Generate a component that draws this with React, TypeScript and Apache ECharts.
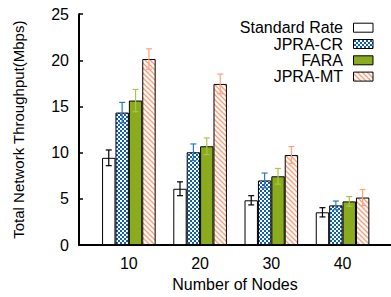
import React, { useEffect, useRef } from "react";
import * as echarts from "echarts";

const nodes = [10, 20, 30, 40];
const seriesNames = ["Standard Rate", "JPRA-CR", "FARA", "JPRA-MT"];
const standardRate = [9.45, 6.1, 4.85, 3.55];
const standardRateErr = [0.85, 0.75, 0.5, 0.5];
const jpraCr = [14.35, 10.05, 7.0, 4.3];
const jpraCrErr = [1.1, 0.9, 0.8, 0.47];
const fara = [15.65, 10.7, 7.45, 4.73];
const faraErr = [1.2, 0.9, 0.85, 0.53];
const jpraMt = [20.15, 17.45, 9.75, 5.15];
const jpraMtErr = [1.1, 1.07, 0.92, 0.87];
const yTicks = { min: 0, max: 25, interval: 5 };

const FONT = "Liberation Sans, Arial, sans-serif";

function makeCanvas(w: number, h: number, draw: (ctx: CanvasRenderingContext2D) => void) {
  const c = document.createElement("canvas");
  c.width = w;
  c.height = h;
  const ctx = c.getContext("2d") as CanvasRenderingContext2D;
  draw(ctx);
  return c;
}

export default function App() {
  const ref = useRef<HTMLDivElement>(null);
  useEffect(() => {
    if (!ref.current) return;
    const chart = echarts.init(ref.current, null, { renderer: "svg" });

    const checker = makeCanvas(4, 4, (ctx) => {
      ctx.fillStyle = "#0d5fb0";
      ctx.fillRect(0, 0, 4, 4);
      ctx.fillStyle = "#ffffff";
      ctx.fillRect(0, 0, 2, 2);
      ctx.fillRect(2, 2, 2, 2);
    });
    const stripes = makeCanvas(5, 5, (ctx) => {
      ctx.fillStyle = "#ffffff";
      ctx.fillRect(0, 0, 5, 5);
      ctx.strokeStyle = "#fb9e78";
      ctx.lineWidth = 1.4;
      ctx.beginPath();
      ctx.moveTo(-1, -1);
      ctx.lineTo(6, 6);
      ctx.moveTo(-1, 4);
      ctx.lineTo(1, 6);
      ctx.moveTo(4, -1);
      ctx.lineTo(6, 1);
      ctx.stroke();
    });
    const fills: any[] = [
      "#ffffff",
      { image: checker, repeat: "repeat", imageWidth: 4, imageHeight: 4 },
      "#8bab1f",
      { image: stripes, repeat: "repeat", imageWidth: 5, imageHeight: 5 },
    ];
    const errColors = ["#000000", "#2b78c6", "#a9c54a", "#fca07e"];
    const values = [standardRate, jpraCr, fara, jpraMt];
    const errs = [standardRateErr, jpraCrErr, faraErr, jpraMtErr];
    const barW = 13.4;

    const barSeries = values.map((vals, i) => ({
      name: seriesNames[i],
      type: "bar",
      barWidth: barW,
      barGap: "0%",
      data: vals.map((v, k) => [nodes[k], v]),
      itemStyle: { color: fills[i], borderColor: "#000", borderWidth: 1 },
      z: 2,
    }));

    const errSeries = values.map((vals, i) => ({
      name: seriesNames[i] + " err",
      type: "custom",
      z: 5,
      data: vals.map((v, k) => [nodes[k], v, errs[i][k]]),
      renderItem: (params: any, api: any) => {
        const x = api.value(0);
        const y = api.value(1);
        const e = api.value(2);
        const top = api.coord([x, y + e]);
        const bot = api.coord([x, y - e]);
        const cx = top[0] + (i - 1.5) * barW;
        const c = errColors[i];
        const hw = 3;
        return {
          type: "group",
          children: [
            { type: "line", shape: { x1: cx, y1: top[1], x2: cx, y2: bot[1] }, style: { stroke: c, lineWidth: 1.2 } },
            { type: "line", shape: { x1: cx - hw, y1: top[1], x2: cx + hw, y2: top[1] }, style: { stroke: c, lineWidth: 1.2 } },
            { type: "line", shape: { x1: cx - hw, y1: bot[1], x2: cx + hw, y2: bot[1] }, style: { stroke: c, lineWidth: 1.2 } },
          ],
        };
      },
    }));

    const legendGraphics: any[] = [];
    seriesNames.forEach((name, i) => {
      const cy = 27.7 + i * 16.3;
      legendGraphics.push({
        type: "text",
        x: 343,
        y: cy,
        style: {
          text: name,
          fontFamily: FONT,
          fontSize: 16,
          fill: "#000",
          align: "right",
          verticalAlign: "middle",
        },
      });
      legendGraphics.push({
        type: "rect",
        shape: { x: 353.5, y: cy - 4.5, width: 19.5, height: 9 },
        style: { fill: fills[i], stroke: "#000", lineWidth: 1 },
      });
    });

    chart.setOption({
      animation: false,
      grid: { left: 79, right: 0, top: 14.2, bottom: 50.3 },
      xAxis: {
        type: "value",
        min: 3,
        max: 46.8,
        name: "Number of Nodes",
        nameLocation: "middle",
        nameGap: 29,
        nameTextStyle: { fontFamily: FONT, fontSize: 16, color: "#000" },
        axisLine: { show: true, onZero: false, lineStyle: { color: "#000", width: 2 } },
        axisTick: { show: false },
        splitLine: { show: false },
        axisLabel: {
          customValues: nodes,
          fontFamily: FONT,
          fontSize: 16,
          color: "#000",
          margin: 10,
        },
      },
      yAxis: {
        type: "value",
        min: yTicks.min,
        max: yTicks.max,
        interval: yTicks.interval,
        name: "Total Network Throughput(Mbps)",
        nameLocation: "middle",
        nameGap: 53,
        nameTextStyle: { fontFamily: FONT, fontSize: 15, color: "#000" },
        axisLine: { show: true, lineStyle: { color: "#000", width: 2 } },
        axisTick: { show: true, inside: true, length: 4, lineStyle: { color: "#000", width: 1.5 } },
        splitLine: { show: false },
        axisLabel: { fontFamily: FONT, fontSize: 16, color: "#000", margin: 10 },
      },
      series: [...barSeries, ...errSeries],
      graphic: legendGraphics,
    });
    return () => chart.dispose();
  }, []);
  return (
    <div
      ref={ref}
      style={{ position: "fixed", left: 0, top: 0, width: 391, height: 297, background: "#fff" }}
    />
  );
}
